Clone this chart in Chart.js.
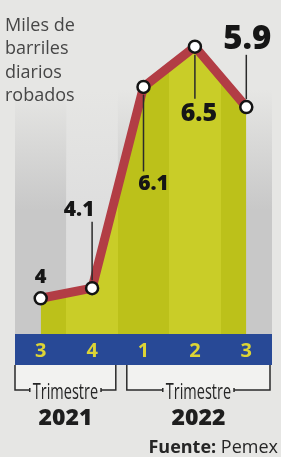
<!DOCTYPE html>
<html>
<head>
<meta charset="utf-8">
<script src="https://cdn.jsdelivr.net/npm/chart.js@4/dist/chart.umd.min.js"></script>
<style>
  html, body { margin: 0; padding: 0; background: #e6e6e4; }
  #wrap { position: relative; width: 281px; height: 457px; }
</style>
</head>
<body>
<div id="wrap"><canvas id="chart"></canvas></div>
<script>
const titleLines = ["Miles de", "barriles", "diarios", "robados"];
const quarters = ["3", "4", "1", "2", "3"];
const stolenBarrels = [4, 4.1, 6.1, 6.5, 5.9];
const valueLabels = ["4", "4.1", "6.1", "6.5", "5.9"];
const yearLabels = ["2021", "2022"];
const yearFirstQuarter = [0, 2];
const yearLastQuarter = [1, 4];
const periodLabel = "Trimestre";
const sourceBold = "Fuente:";
const sourceName = "Pemex";

// where each value callout sits relative to its point
const callouts = [
  {dx: 0, dy: -22, size: 20, leader: false},
  {dx: -13, dy: -80, size: 21, leader: true},
  {dx: 10, dy: 96, size: 21, leader: true},
  {dx: 4, dy: 65, size: 25, leader: true},
  {dx: 1, dy: -70, size: 33, leader: true},
];
// bracket insets (left, right) under each year
const bracketInsets = [[0, 2], [9, 2]];

const FONT = "'Open Sans', 'DejaVu Sans', sans-serif";

function columnEdges(chart, i)
{
  const x = chart.scales.x;
  const w = x.getPixelForValue(1) - x.getPixelForValue(0);
  const c = x.getPixelForValue(i);
  return [c - w / 2, c + w / 2];
}

function fillGradient(context)
{
  const chart = context.chart;
  const area = chart.chartArea;
  if (!area)
    return "#c4c924";
  const g = chart.ctx.createLinearGradient(area.left, 0, area.right, 0);
  const n = quarters.length;
  for (let i = 0; i < n; i++)
  {
    const col = i % 2 === 0 ? "#bcc11a" : "#c9cd28";
    g.addColorStop(i / n, col);
    g.addColorStop((i + 1) / n - 0.0001, col);
  }
  return g;
}

const backdrop = {
  id: "backdrop",
  beforeDraw(chart)
  {
    const ctx = chart.ctx;
    const area = chart.chartArea;
    ctx.save();
    ctx.fillStyle = "#e6e6e4";
    ctx.fillRect(0, 0, chart.width, chart.height);

    // column stripes fading out toward the top
    for (let i = 0; i < quarters.length; i++)
    {
      const [l, r] = columnEdges(chart, i);
      const g = ctx.createLinearGradient(0, 90, 0, 210);
      const rgb = i % 2 === 0 ? "200,200,200" : "222,222,222";
      g.addColorStop(0, "rgba(" + rgb + ",0)");
      g.addColorStop(1, "rgba(" + rgb + ",1)");
      ctx.fillStyle = g;
      ctx.fillRect(l, 90, r - l, area.bottom - 90);
    }

    // title
    ctx.fillStyle = "#464646";
    ctx.font = "18px " + FONT;
    ctx.textAlign = "left";
    ctx.textBaseline = "alphabetic";
    titleLines.forEach((t, i) => ctx.fillText(t, 5, 31 + i * 23.3));

    // quarter band
    const bandTop = area.bottom;
    const bandBottom = area.bottom + 31;
    ctx.fillStyle = "#284996";
    ctx.fillRect(area.left, bandTop, area.right - area.left, bandBottom - bandTop);
    ctx.fillStyle = "#dcd436";
    ctx.font = "bold 20px " + FONT;
    ctx.textAlign = "center";
    quarters.forEach((q, i) =>
    {
      ctx.fillText(q, chart.scales.x.getPixelForValue(i), bandTop + 23);
    });

    // year brackets
    const lineY = bandBottom + 25;
    yearLabels.forEach((year, k) =>
    {
      const l = columnEdges(chart, yearFirstQuarter[k])[0] + bracketInsets[k][0];
      const r = columnEdges(chart, yearLastQuarter[k])[1] - bracketInsets[k][1];
      const mid = (l + r) / 2;
      ctx.fillStyle = "rgba(245,245,243,0.8)";
      ctx.fillRect(l, bandBottom, r - l, lineY - bandBottom);

      ctx.save();
      ctx.font = "21px " + FONT;
      const sx = 0.69;
      const tw = ctx.measureText(periodLabel).width * sx;
      ctx.strokeStyle = "#2a2a2a";
      ctx.lineWidth = 1.5;
      ctx.beginPath();
      ctx.moveTo(l, bandBottom);
      ctx.lineTo(l, lineY);
      ctx.lineTo(mid - tw / 2 - 3, lineY);
      ctx.moveTo(mid - tw / 2 - 3, lineY - 2);
      ctx.lineTo(mid - tw / 2 - 3, lineY + 2);
      ctx.moveTo(mid + tw / 2 + 3, lineY - 2);
      ctx.lineTo(mid + tw / 2 + 3, lineY + 2);
      ctx.moveTo(mid + tw / 2 + 3, lineY);
      ctx.lineTo(r, lineY);
      ctx.lineTo(r, bandBottom);
      ctx.stroke();

      ctx.fillStyle = "#262626";
      ctx.translate(mid, lineY + 9);
      ctx.scale(sx, 1);
      ctx.textAlign = "center";
      ctx.fillText(periodLabel, 0, 0);
      ctx.restore();

      ctx.fillStyle = "#1e1e1e";
      ctx.font = "800 23px " + FONT;
      ctx.textAlign = "center";
      ctx.fillText(year, mid, lineY + 35);
    });

    // source
    ctx.textAlign = "left";
    ctx.font = "bold 18px " + FONT;
    const bw = ctx.measureText(sourceBold + " ").width;
    ctx.font = "18px " + FONT;
    const nw = ctx.measureText(sourceName).width;
    const sx0 = 278 - bw - nw;
    ctx.fillStyle = "#262626";
    ctx.font = "bold 18px " + FONT;
    ctx.fillText(sourceBold, sx0, 453);
    ctx.font = "18px " + FONT;
    ctx.fillText(sourceName, sx0 + bw, 453);
    ctx.restore();
  },
};

const valueCallouts = {
  id: "valueCallouts",
  afterDatasetsDraw(chart)
  {
    const ctx = chart.ctx;
    const pts = chart.getDatasetMeta(0).data;
    ctx.save();
    pts.forEach((p, i) =>
    {
      const c = callouts[i];
      const cx = p.x + c.dx;
      const cy = p.y + c.dy;
      const cap = c.size * 0.714;
      if (c.leader)
      {
        ctx.strokeStyle = "#2a2a2a";
        ctx.lineWidth = 1.5;
        ctx.beginPath();
        if (c.dy < 0)
        {
          ctx.moveTo(p.x, cy + cap / 2 + 6);
          ctx.lineTo(p.x, p.y - 8);
        }
        else
        {
          ctx.moveTo(p.x, p.y + 8);
          ctx.lineTo(p.x, cy - cap / 2 - 4);
        }
        ctx.stroke();
      }
      ctx.fillStyle = "#161616";
      ctx.font = "800 " + c.size + "px " + FONT;
      ctx.textAlign = "center";
      ctx.textBaseline = "alphabetic";
      ctx.fillText(valueLabels[i], cx, cy + cap / 2);
    });
    ctx.restore();
  },
};

new Chart(document.getElementById("chart"), {
  type: "line",
  data: {
    labels: quarters,
    datasets: [{
      data: stolenBarrels,
      borderColor: "#b23d45",
      borderWidth: 9,
      backgroundColor: fillGradient,
      fill: "start",
      tension: 0,
      pointRadius: 6,
      pointBorderWidth: 2.5,
      pointBorderColor: "#141414",
      pointBackgroundColor: "#ffffff",
      clip: false,
    }],
  },
  options: {
    responsive: true,
    maintainAspectRatio: false,
    animation: false,
    devicePixelRatio: 1,
    layout: {padding: {left: 15, right: 9, top: 0, bottom: 123}},
    plugins: {legend: {display: false}, tooltip: {enabled: false}},
    scales: {
      x: {type: "category", offset: true, display: false},
      y: {display: false, min: 3.645, max: 6.879},
    },
  },
  plugins: [backdrop, valueCallouts],
});
</script>
</body>
</html>
